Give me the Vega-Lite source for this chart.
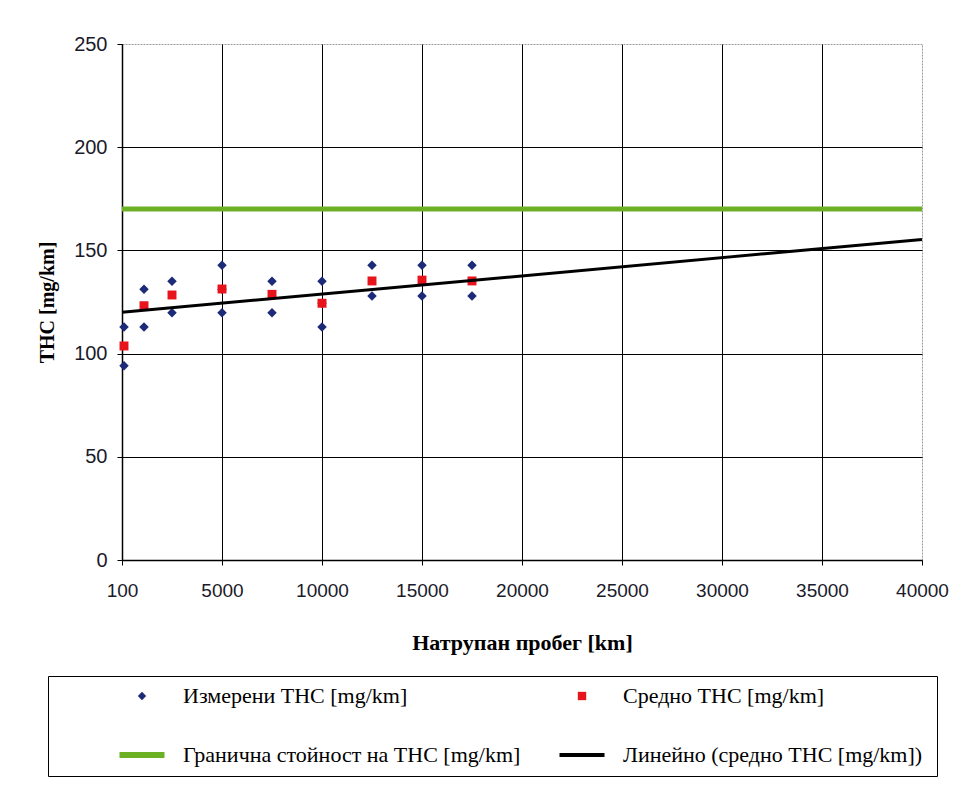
{
  "$schema": "https://vega.github.io/schema/vega-lite/v6.json",
  "width": 800,
  "height": 516,
  "autosize": {"type": "none"},
  "padding": {"left": 122, "top": 44, "right": 31, "bottom": 234},
  "background": "white",
  "datasets": {
    "measured": [
      {"km": 100, "thc": 112.9, "series": "Измерени THC [mg/km]"},
      {"km": 100, "thc": 94.1, "series": "Измерени THC [mg/km]"},
      {"km": 1100, "thc": 131.2, "series": "Измерени THC [mg/km]"},
      {"km": 1100, "thc": 112.9, "series": "Измерени THC [mg/km]"},
      {"km": 2500, "thc": 135.0, "series": "Измерени THC [mg/km]"},
      {"km": 2500, "thc": 119.8, "series": "Измерени THC [mg/km]"},
      {"km": 5000, "thc": 142.8, "series": "Измерени THC [mg/km]"},
      {"km": 5000, "thc": 131.2, "series": "Измерени THC [mg/km]"},
      {"km": 5000, "thc": 119.8, "series": "Измерени THC [mg/km]"},
      {"km": 7500, "thc": 135.0, "series": "Измерени THC [mg/km]"},
      {"km": 7500, "thc": 119.8, "series": "Измерени THC [mg/km]"},
      {"km": 10000, "thc": 135.0, "series": "Измерени THC [mg/km]"},
      {"km": 10000, "thc": 124.4, "series": "Измерени THC [mg/km]"},
      {"km": 10000, "thc": 112.9, "series": "Измерени THC [mg/km]"},
      {"km": 12500, "thc": 142.8, "series": "Измерени THC [mg/km]"},
      {"km": 12500, "thc": 127.9, "series": "Измерени THC [mg/km]"},
      {"km": 15000, "thc": 142.8, "series": "Измерени THC [mg/km]"},
      {"km": 15000, "thc": 127.9, "series": "Измерени THC [mg/km]"},
      {"km": 17500, "thc": 142.8, "series": "Измерени THC [mg/km]"},
      {"km": 17500, "thc": 127.9, "series": "Измерени THC [mg/km]"}
    ],
    "average": [
      {"km": 100, "thc": 103.7, "series": "Средно THC [mg/km]"},
      {"km": 1100, "thc": 123.2, "series": "Средно THC [mg/km]"},
      {"km": 2500, "thc": 128.4, "series": "Средно THC [mg/km]"},
      {"km": 5000, "thc": 131.3, "series": "Средно THC [mg/km]"},
      {"km": 7500, "thc": 128.7, "series": "Средно THC [mg/km]"},
      {"km": 10000, "thc": 124.4, "series": "Средно THC [mg/km]"},
      {"km": 12500, "thc": 135.2, "series": "Средно THC [mg/km]"},
      {"km": 15000, "thc": 135.6, "series": "Средно THC [mg/km]"},
      {"km": 17500, "thc": 135.2, "series": "Средно THC [mg/km]"}
    ],
    "limit": [
      {"km": 0, "thc": 170, "series": "Гранична стойност на THC [mg/km]"},
      {"km": 40000, "thc": 170, "series": "Гранична стойност на THC [mg/km]"}
    ],
    "trend": [
      {"km": 0, "thc": 120.0, "series": "Линейно (средно  THC [mg/km])"},
      {"km": 40000, "thc": 155.3, "series": "Линейно (средно  THC [mg/km])"}
    ]
  },
  "config": {
    "view": {"stroke": "#9a9a9a", "strokeDash": [2, 1], "strokeWidth": 1},
    "axis": {
      "labelFont": "Liberation Sans",
      "labelColor": "#1a1a2a",
      "titleFont": "Liberation Serif",
      "titleFontWeight": "bold",
      "titleColor": "black",
      "domainColor": "black",
      "domainWidth": 1.5,
      "tickColor": "black",
      "tickSize": 5,
      "gridColor": "black",
      "gridOpacity": 1,
      "gridWidth": 1
    },
    "legend": {
      "orient": "none",
      "legendX": -74,
      "legendY": 632,
      "direction": "horizontal",
      "columns": 2,
      "titleOrient": "left",
      "titleFontSize": 8,
      "titleColor": "transparent",
      "titlePadding": 63,
      "strokeColor": "black",
      "fillColor": "white",
      "padding": 9,
      "labelFont": "Liberation Serif",
      "labelFontSize": 22,
      "labelColor": "black",
      "labelLimit": 500,
      "labelOffset": 30,
      "symbolOffset": 11,
      "columnPadding": 30,
      "rowPadding": 36,
      "symbolStrokeWidth": 0
    }
  },
  "encoding": {
    "x": {
      "field": "km",
      "type": "quantitative",
      "scale": {"domain": [0, 40000], "nice": false, "zero": false},
      "axis": {
        "values": [0, 5000, 10000, 15000, 20000, 25000, 30000, 35000, 40000],
        "labelExpr": "datum.value === 0 ? '100' : format(datum.value, 'd')",
        "labelFlush": false,
        "labelFontSize": 19,
        "labelPadding": 16,
        "title": "Натрупан пробег [km]",
        "titleFontSize": 22,
        "titlePadding": 32,
        "gridColor": {"condition": {"test": "datum.value === 40000", "value": "transparent"}, "value": "black"}
      }
    },
    "y": {
      "field": "thc",
      "type": "quantitative",
      "scale": {"domain": [0, 250], "nice": false},
      "axis": {
        "values": [0, 50, 100, 150, 200, 250],
        "labelFontSize": 20,
        "labelPadding": 10,
        "title": "THC [mg/km]",
        "titleFontSize": 20,
        "titlePadding": 16,
        "gridColor": {"condition": {"test": "datum.value === 250", "value": "transparent"}, "value": "black"}
      }
    },
    "color": {
      "field": "series",
      "type": "nominal",
      "scale": {
        "domain": ["Измерени THC [mg/km]", "Средно THC [mg/km]", "Гранична стойност на THC [mg/km]", "Линейно (средно  THC [mg/km])"],
        "range": ["#1c2a78", "#e8141c", "#6cb024", "#000000"]
      },
      "legend": {
        "title": "\u00a0",
        "encode": {
          "symbols": {
            "update": {
              "size": {"signal": "datum.index < 2 ? 70 : 2025"},
              "strokeWidth": {"signal": "datum.index == 2 ? 6 : (datum.index == 3 ? 4 : 0)"}
            }
          }
        }
      }
    }
  },
  "layer": [
    {
      "data": {"name": "measured"},
      "mark": {"type": "point", "filled": true, "opacity": 1, "size": 90},
      "encoding": {
        "shape": {
          "field": "series",
          "type": "nominal",
          "scale": {
            "domain": ["Измерени THC [mg/km]", "Средно THC [mg/km]", "Гранична стойност на THC [mg/km]", "Линейно (средно  THC [mg/km])"],
            "range": ["diamond", "square", "stroke", "stroke"]
          },
          "legend": {"title": "\u00a0"}
        }
      }
    },
    {
      "data": {"name": "average"},
      "mark": {"type": "point", "filled": true, "opacity": 1, "size": 80},
      "encoding": {
        "shape": {"field": "series", "type": "nominal"}
      }
    },
    {
      "data": {"name": "limit"},
      "mark": {"type": "line", "strokeWidth": 5},
      "encoding": {}
    },
    {
      "data": {"name": "trend"},
      "mark": {"type": "line", "strokeWidth": 3},
      "encoding": {}
    }
  ]
}
